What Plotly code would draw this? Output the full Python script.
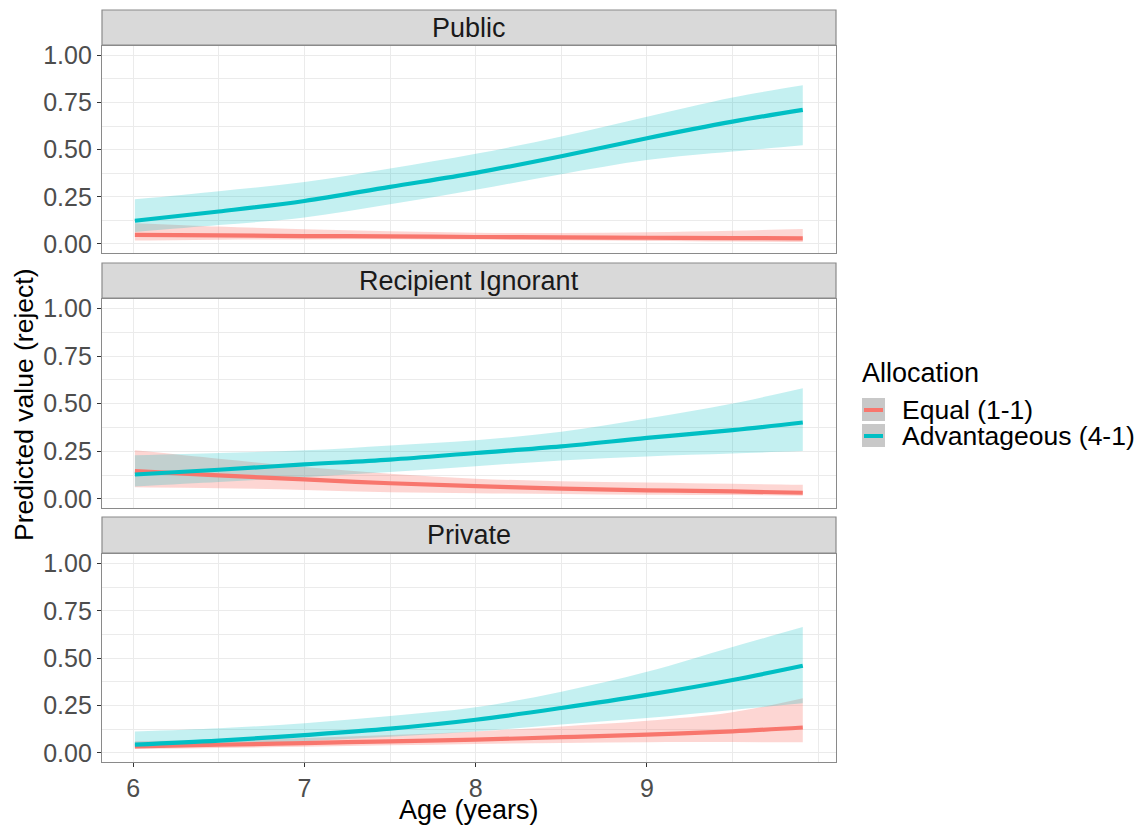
import plotly.graph_objects as go

# ---------------- data ----------------
age = [6.01, 6.5, 7.0, 7.5, 8.0, 8.5, 9.0, 9.5, 9.91]
panels = ["Public", "Recipient Ignorant", "Private"]
groups = ["Equal (1-1)", "Advantageous (4-1)"]
legend_title = "Allocation"

# Public
pub_eq_fit = [0.048, 0.045, 0.042, 0.040, 0.037, 0.035, 0.033, 0.031, 0.030]
pub_eq_lo = [0.018, 0.022, 0.024, 0.025, 0.023, 0.020, 0.016, 0.013, 0.011]
pub_eq_hi = [0.110, 0.092, 0.078, 0.068, 0.060, 0.058, 0.062, 0.070, 0.079]
pub_adv_fit = [0.123, 0.172, 0.228, 0.303, 0.377, 0.465, 0.561, 0.649, 0.711]
pub_adv_lo = [0.063, 0.100, 0.140, 0.210, 0.287, 0.370, 0.445, 0.490, 0.523]
pub_adv_hi = [0.237, 0.280, 0.328, 0.400, 0.478, 0.570, 0.675, 0.777, 0.842]

# Recipient Ignorant
ri_eq_fit = [0.146, 0.123, 0.102, 0.082, 0.067, 0.054, 0.045, 0.039, 0.032]
ri_eq_lo = [0.061, 0.056, 0.047, 0.035, 0.030, 0.026, 0.022, 0.020, 0.017]
ri_eq_hi = [0.255, 0.211, 0.167, 0.132, 0.106, 0.093, 0.086, 0.079, 0.074]
ri_adv_fit = [0.128, 0.153, 0.181, 0.206, 0.241, 0.276, 0.320, 0.361, 0.401]
ri_adv_lo = [0.065, 0.088, 0.114, 0.141, 0.171, 0.202, 0.223, 0.238, 0.251]
ri_adv_hi = [0.229, 0.241, 0.255, 0.281, 0.308, 0.352, 0.422, 0.501, 0.581]

# Private
pr_eq_fit = [0.035, 0.043, 0.052, 0.061, 0.070, 0.083, 0.097, 0.114, 0.134]
pr_eq_lo = [0.021, 0.026, 0.032, 0.040, 0.047, 0.052, 0.056, 0.057, 0.056]
pr_eq_hi = [0.061, 0.069, 0.079, 0.094, 0.113, 0.140, 0.170, 0.215, 0.289]
pr_adv_fit = [0.044, 0.065, 0.094, 0.128, 0.175, 0.237, 0.306, 0.385, 0.460]
pr_adv_lo = [0.026, 0.040, 0.061, 0.085, 0.113, 0.150, 0.184, 0.227, 0.262]
pr_adv_hi = [0.113, 0.130, 0.157, 0.195, 0.241, 0.323, 0.428, 0.559, 0.664]

y_ticks = [0.0, 0.25, 0.5, 0.75, 1.0]
y_tick_text = ["0.00", "0.25", "0.50", "0.75", "1.00"]
x_ticks = [6, 7, 8, 9]
x_tick_text = ["6", "7", "8", "9"]

series = {
    "Public": [(pub_eq_lo, pub_eq_fit, pub_eq_hi), (pub_adv_lo, pub_adv_fit, pub_adv_hi)],
    "Recipient Ignorant": [(ri_eq_lo, ri_eq_fit, ri_eq_hi), (ri_adv_lo, ri_adv_fit, ri_adv_hi)],
    "Private": [(pr_eq_lo, pr_eq_fit, pr_eq_hi), (pr_adv_lo, pr_adv_fit, pr_adv_hi)],
}

line_colors = ["#F8766D", "#00BFC4"]
fill_colors = ["rgba(248,118,109,0.30)", "rgba(0,191,196,0.23)"]
FONT = "Liberation Sans, Arial, sans-serif"

# ---------------- layout geometry (pixels) ----------------
W, H = 1148, 829
L, R, T, B = 102, 836, 10, 762
pw, ph = R - L, B - T


def xp(px):
    return (px - L) / pw


def yp(py):
    return (B - py) / ph


plot_px = [(46, 253), (299, 508), (554, 762)]
strip_px = [(10, 45), (263, 298), (517, 553)]

fig = go.Figure()

for i, name in enumerate(panels):
    xa = "x" if i == 0 else f"x{i+1}"
    ya = "y" if i == 0 else f"y{i+1}"
    data = series[name]
    # ribbons
    for g in range(2):
        lo, fit, hi = data[g]
        fig.add_trace(go.Scatter(
            x=age, y=lo, mode="lines", line=dict(width=0, shape="spline"),
            hoverinfo="skip", showlegend=False, xaxis=xa, yaxis=ya))
        fig.add_trace(go.Scatter(
            x=age, y=hi, mode="lines", fill="tonexty",
            fillcolor=fill_colors[g], line=dict(width=0, shape="spline"),
            hoverinfo="skip", showlegend=False, xaxis=xa, yaxis=ya))
    # lines
    for g in range(2):
        lo, fit, hi = data[g]
        fig.add_trace(go.Scatter(
            x=age, y=fit, mode="lines",
            line=dict(color=line_colors[g], width=4.2, shape="spline"),
            name=groups[g], showlegend=False,
            xaxis=xa, yaxis=ya))

grid = "#EBEBEB"
border = "#8A8A8A"
axis_common = dict(
    showline=True, linecolor=border, linewidth=1.2, mirror=True,
    gridcolor=grid, gridwidth=1.2, zeroline=False, automargin=False,
    ticks="outside", ticklen=4, tickcolor="#333333", tickwidth=1.1,
    tickfont=dict(family=FONT, size=25, color="#4D4D4D"),
)

layout = {}
for i in range(3):
    top, bot = plot_px[i]
    xk = "xaxis" if i == 0 else f"xaxis{i+1}"
    yk = "yaxis" if i == 0 else f"yaxis{i+1}"
    layout[xk] = dict(
        axis_common, domain=[0, 1], range=[5.818, 10.104],
        tickmode="array", tickvals=x_ticks, ticktext=x_tick_text,
        showticklabels=(i == 2), anchor="y" if i == 0 else f"y{i+1}",
        minor=dict(tickmode="array", tickvals=[6.5, 7.5, 8.5, 9.5, 10],
                   showgrid=True, gridcolor=grid, gridwidth=0.6, ticks=""),
    )
    if i != 2:
        layout[xk]["ticks"] = ""
    layout[yk] = dict(
        axis_common, domain=[yp(bot), yp(top)], range=[-0.048, 1.05],
        tickmode="array", tickvals=y_ticks, ticktext=y_tick_text,
        anchor="x" if i == 0 else f"x{i+1}",
        minor=dict(tickmode="array", tickvals=[0.125, 0.375, 0.625, 0.875],
                   showgrid=True, gridcolor=grid, gridwidth=0.6, ticks=""),
    )
    if i != 0:
        layout[xk]["matches"] = "x"
        layout[yk]["matches"] = "y"

fig.update_layout(**layout)

shapes = []
annotations = []
for i, name in enumerate(panels):
    top, bot = strip_px[i]
    shapes.append(dict(type="rect", xref="paper", yref="paper",
                       x0=0, x1=1, y0=yp(bot), y1=yp(top),
                       fillcolor="#D9D9D9", line=dict(color=border, width=1.2),
                       layer="above"))
    annotations.append(dict(text=name, xref="paper", yref="paper",
                            x=0.5, y=yp((top + bot) / 2), showarrow=False,
                            xanchor="center", yanchor="middle",
                            font=dict(family=FONT, size=27, color="#1A1A1A")))

# axis titles
annotations.append(dict(text="Predicted value (reject)", xref="paper", yref="paper",
                        x=xp(24), y=yp(405), textangle=-90, showarrow=False,
                        xanchor="center", yanchor="middle",
                        font=dict(family=FONT, size=26.5, color="black")))
annotations.append(dict(text="Age (years)", xref="paper", yref="paper",
                        x=xp(469), y=yp(810), showarrow=False,
                        xanchor="center", yanchor="middle",
                        font=dict(family=FONT, size=27, color="black")))

# manual legend (ggplot style keys)
annotations.append(dict(text=legend_title, xref="paper", yref="paper",
                        x=xp(860), y=yp(373), showarrow=False,
                        xanchor="left", yanchor="middle",
                        font=dict(family=FONT, size=27, color="black")))
key_rows = [(398, 421, 410), (424, 447, 436)]
for g, (y0, y1, yc) in enumerate(key_rows):
    shapes.append(dict(type="rect", xref="paper", yref="paper",
                       x0=xp(862), x1=xp(885), y0=yp(y1), y1=yp(y0),
                       fillcolor="#C8C8C8", line=dict(width=0), layer="above"))
    shapes.append(dict(type="line", xref="paper", yref="paper",
                       x0=xp(864), x1=xp(883), y0=yp(yc), y1=yp(yc),
                       line=dict(color=line_colors[g], width=4), layer="above"))
    annotations.append(dict(text=groups[g], xref="paper", yref="paper",
                            x=xp(900), y=yp(yc), showarrow=False,
                            xanchor="left", yanchor="middle",
                            font=dict(family=FONT, size=26.5, color="black")))

fig.update_layout(
    width=W, height=H,
    margin=dict(l=L, r=W - R, t=T, b=H - B, autoexpand=False),
    plot_bgcolor="white", paper_bgcolor="white",
    shapes=shapes, annotations=annotations,
    showlegend=False,
)

fig.write_html("out.html", config={"displayModeBar": False},
               post_script="document.body.style.margin='0px';")
